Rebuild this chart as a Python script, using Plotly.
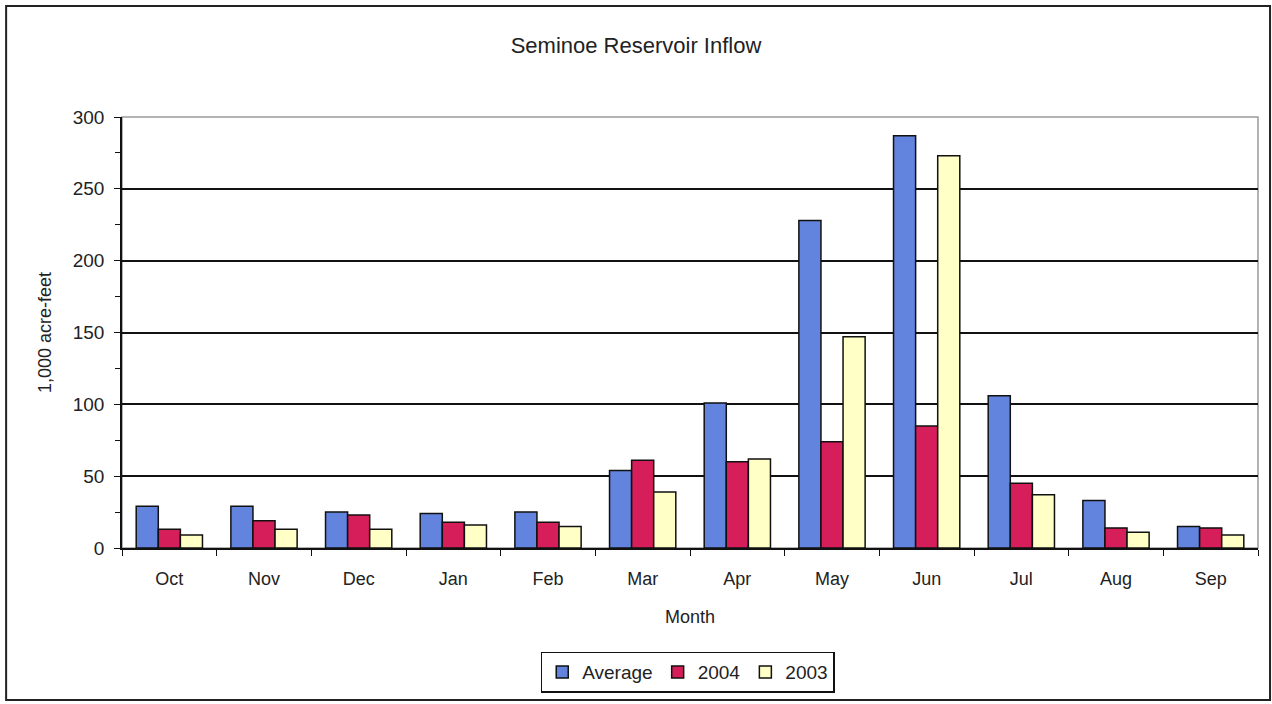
import plotly.graph_objects as go

months = ["Oct", "Nov", "Dec", "Jan", "Feb", "Mar", "Apr", "May", "Jun", "Jul", "Aug", "Sep"]
average = [29, 29, 25, 24, 25, 54, 101, 228, 287, 106, 33, 15]
y2004 = [13, 19, 23, 18, 18, 61, 60, 74, 85, 45, 14, 14]
y2003 = [9, 13, 13, 16, 15, 39, 62, 147, 273, 37, 11, 9]

FONT = "Liberation Sans, Arial, sans-serif"

fig = go.Figure()
for name, vals, color in [
    ("Average", average, "#6283DE"),
    ("2004", y2004, "#D61E5A"),
    ("2003", y2003, "#FFFFC6"),
]:
    fig.add_trace(go.Bar(
        x=months, y=vals, name=name,
        marker=dict(color=color, line=dict(color="#111111", width=1.5)),
    ))

# plot-area frame (gray) and outer chart frame (black)
fig.add_shape(type="rect", xref="paper", yref="paper", x0=0, x1=1, y0=0, y1=1,
              line=dict(color="#9a9a9a", width=1.5), layer="below")
fig.add_shape(type="rect", xref="paper", yref="paper",
              x0=-0.102, x1=1.0106, y0=-0.3527, y1=1.2575,
              line=dict(color="#222222", width=2))

fig.update_layout(
    width=1272, height=704,
    margin=dict(l=122, r=14, t=117, b=156),
    paper_bgcolor="white", plot_bgcolor="white",
    font=dict(family=FONT, color="#222222", size=18),
    barmode="group", bargap=0.3, bargroupgap=0,
    title=dict(text="Seminoe Reservoir Inflow", x=0.5, xanchor="center",
               y=1 - 45 / 704, yanchor="middle", font=dict(size=22, family=FONT)),
    showlegend=True,
    legend=dict(orientation="h", x=0.498, xanchor="center", y=-0.288, yanchor="middle",
                bordercolor="#111111", borderwidth=1.5, bgcolor="white",
                font=dict(size=19, family=FONT), itemwidth=30,
                tracegroupgap=0, traceorder="normal"),
    xaxis=dict(
        title=dict(text="Month", font=dict(size=18), standoff=22),
        showline=True, linecolor="#111111", linewidth=1.5,
        ticks="outside", tickson="boundaries", ticklen=6, tickcolor="#111111",
        ticklabelstandoff=14,
        tickfont=dict(size=18), showgrid=False,
    ),
    yaxis=dict(
        title=dict(text="1,000 acre-feet", font=dict(size=18), standoff=16),
        range=[0, 300], tickvals=[0, 50, 100, 150, 200, 250, 300],
        showline=True, linecolor="#111111", linewidth=1.5,
        ticks="outside", ticklen=6, tickcolor="#111111",
        ticklabelstandoff=6,
        showgrid=True, gridcolor="#111111", gridwidth=1.5,
        zeroline=False,
        minor=dict(dtick=25, ticks="outside", ticklen=5, tickcolor="#111111", showgrid=False),
        tickfont=dict(size=19),
    ),
)

fig.write_html("out.html")
